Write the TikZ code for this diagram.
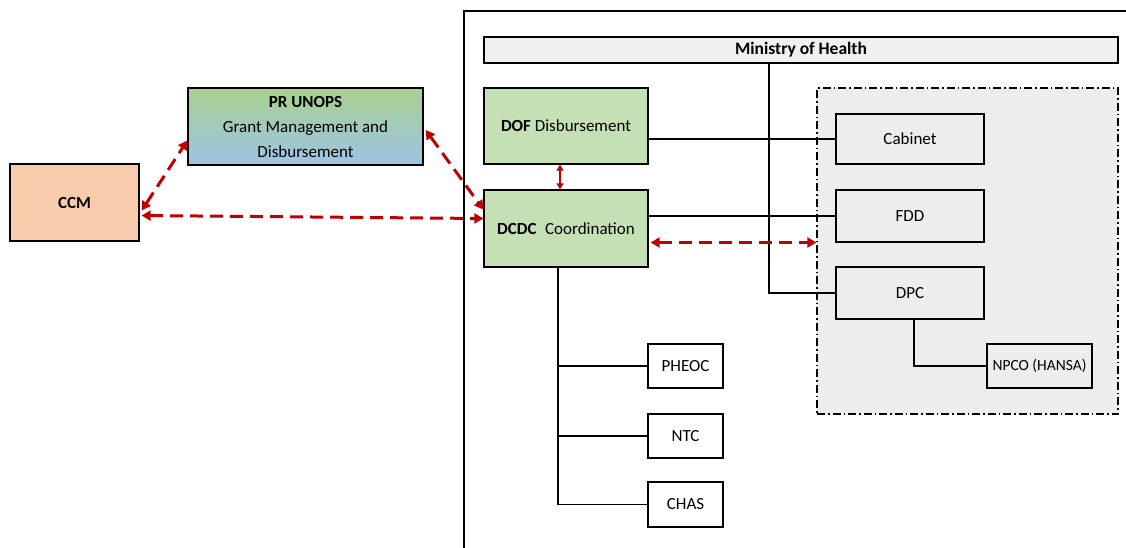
\documentclass[tikz,border=0pt]{standalone}
\usepackage{fontspec}
\setmainfont{Carlito}
\usetikzlibrary{arrows.meta,calc}
\definecolor{peach}{HTML}{F8CBAD}
\definecolor{lgreen}{HTML}{C5E0B4}
\definecolor{gtop}{HTML}{A9D18E}
\definecolor{gbot}{HTML}{9DC3E6}
\definecolor{regiongray}{HTML}{EDEDED}
\definecolor{mohgray}{HTML}{F0F0F0}
\definecolor{arrowred}{HTML}{C00000}
\begin{document}
\begin{tikzpicture}[x=1pt,y=-1pt,
  box/.style={draw=black, line width=1.3pt, inner sep=0pt, align=center,
    font=\fontsize{17}{25}\selectfont},
  link/.style={draw=black, line width=1.2pt},
  redarrow/.style={draw=arrowred, line width=3pt, dash pattern=on 13pt off 7pt,
    {Triangle[length=9pt,width=10pt]}-{Triangle[length=9pt,width=10pt]}},
  redshort/.style={draw=arrowred, line width=2pt,
    {Triangle[length=6pt,width=7pt]}-{Triangle[length=6pt,width=7pt]}}]
\useasboundingbox (0,0) rectangle (1126,547);
% outer frame
\draw[line width=1.3pt] (464,552) -- (464,11) -- (1132,11);
% nodes
\node[box, fill=peach, minimum width=129pt, minimum height=77pt] (ccm) at (74.5,202.5) {\textbf{CCM}};
\node[box, top color=gtop, bottom color=gbot, minimum width=235pt, minimum height=77pt] (prunops) at (305.5,126.5)
  {\textbf{PR UNOPS}\\Grant Management and\\Disbursement};
\node[box, fill=mohgray, minimum width=634pt, minimum height=26pt, font=\fontsize{17.5}{20}\selectfont\bfseries] (moh) at (801,50) {Ministry of Health};
\node[box, fill=lgreen, minimum width=164pt, minimum height=76pt] (dof) at (566,126) {\textbf{DOF} Disbursement};
\node[box, fill=lgreen, minimum width=164pt, minimum height=77pt] (dcdc) at (566,228.5) {\textbf{DCDC}\hspace{0.5em}Coordination};
\node[draw=black, line width=1.2pt, fill=regiongray, dash pattern=on 8pt off 3pt on 1.5pt off 3pt,
  inner sep=0pt, minimum width=301pt, minimum height=326pt] (region) at (967.5,251) {};
\node[box, fill=regiongray, minimum width=148pt, minimum height=50pt] (cabinet) at (910,139) {Cabinet};
\node[box, fill=regiongray, minimum width=148pt, minimum height=52pt] (fdd) at (910,216) {FDD};
\node[box, fill=regiongray, minimum width=148pt, minimum height=52pt] (dpc) at (910,293) {DPC};
\node[box, fill=regiongray, minimum width=105pt, minimum height=44pt, font=\fontsize{15.5}{18}\selectfont] (npco) at (1039.5,366) {NPCO (HANSA)};
\node[box, fill=white, minimum width=75pt, minimum height=44pt] (pheoc) at (685.5,366) {PHEOC};
\node[box, fill=white, minimum width=75pt, minimum height=44pt] (ntc) at (685.5,436) {NTC};
\node[box, fill=white, minimum width=75pt, minimum height=45pt] (chas) at (685.5,504.5) {CHAS};
% black connectors
\coordinate (mohdrop) at ([xshift=-32pt]moh.south);
\draw[link] (mohdrop) |- (dpc.west);
\draw[link] (dof.east |- cabinet.west) -- (cabinet.west);
\draw[link] (dcdc.east |- fdd.west) -- (fdd.west);
\coordinate (dcdcdrop) at ([xshift=-8pt]dcdc.south);
\draw[link] (dcdcdrop) |- (chas.west);
\draw[link] (dcdcdrop |- pheoc.west) -- (pheoc.west);
\draw[link] (dcdcdrop |- ntc.west) -- (ntc.west);
\draw[link] ([xshift=4pt]dpc.south) |- (npco.west);
% red arrows
\draw[redarrow] ([xshift=2pt,yshift=-13pt]ccm.east) -- ([yshift=10pt]dcdc.west);
\draw[redarrow] ([xshift=2pt,yshift=-8pt]ccm.east) -- ([yshift=-14pt]prunops.west);
\draw[redarrow] ([xshift=2pt,yshift=-3.5pt]prunops.east) -- ([yshift=19pt]dcdc.west);
\draw[redshort] ([xshift=-6pt]dof.south) -- ([xshift=-6pt]dcdc.north);
\coordinate (dcdcr) at ([xshift=2pt,yshift=-14pt]dcdc.east);
\draw[redarrow] (dcdcr) -- (dcdcr -| region.west);
\end{tikzpicture}
\end{document}
